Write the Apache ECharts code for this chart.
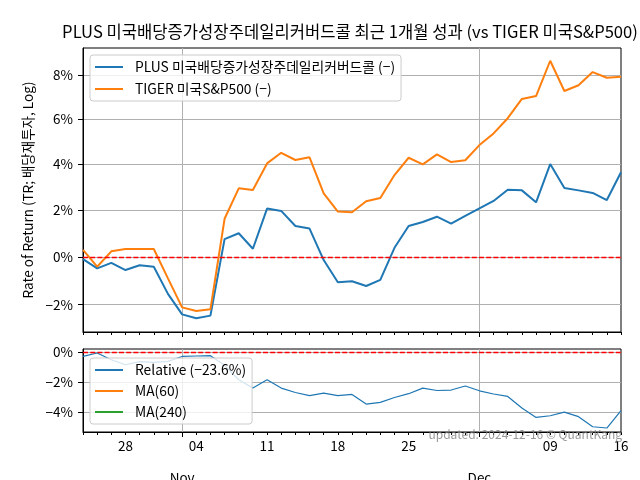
<!DOCTYPE html>
<html><head><meta charset="utf-8">
<script src="https://cdn.jsdelivr.net/npm/echarts@6/dist/echarts.min.js"></script>
<style>html,body{margin:0;padding:0;background:#fff}#c{width:640px;height:480px}</style>
</head><body><div id="c"></div>
<script>
const dates = [
  '2024-10-23','2024-10-24','2024-10-25','2024-10-28','2024-10-29','2024-10-30','2024-10-31',
  '2024-11-01','2024-11-04','2024-11-05','2024-11-06','2024-11-07','2024-11-08',
  '2024-11-11','2024-11-12','2024-11-13','2024-11-14','2024-11-15',
  '2024-11-18','2024-11-19','2024-11-20','2024-11-21','2024-11-22',
  '2024-11-25','2024-11-26','2024-11-27','2024-11-28','2024-11-29',
  '2024-12-02','2024-12-03','2024-12-04','2024-12-05','2024-12-06',
  '2024-12-09','2024-12-10','2024-12-11','2024-12-12','2024-12-13','2024-12-16'
];
// cumulative total return, %
const plusReturn = [-0.09,-0.48,-0.25,-0.55,-0.35,-0.41,-1.55,-2.40,-2.56,-2.45,0.76,1.01,0.35,2.07,1.97,1.32,1.21,-0.13,-1.06,-1.02,-1.22,-0.96,0.39,1.32,1.49,1.72,1.42,1.76,2.08,2.40,2.89,2.86,2.34,4.01,2.96,2.86,2.75,2.44,3.65];
const tigerReturn = [0.30,-0.41,0.24,0.34,0.34,0.34,-0.90,-2.11,-2.26,-2.19,1.63,2.95,2.88,4.04,4.51,4.19,4.31,2.73,1.94,1.91,2.39,2.53,3.53,4.29,4.00,4.44,4.10,4.18,4.85,5.37,6.05,6.92,7.05,8.66,7.28,7.54,8.14,7.88,7.93];
const relative = [-0.30,-0.07,-0.52,-0.86,-0.65,-0.70,-0.63,-0.30,-0.27,-0.25,-0.90,-1.86,-2.41,-1.86,-2.41,-2.70,-2.91,-2.74,-2.91,-2.83,-3.46,-3.35,-3.03,-2.78,-2.41,-2.57,-2.54,-2.27,-2.59,-2.80,-2.96,-3.72,-4.33,-4.22,-3.98,-4.28,-4.93,-5.01,-3.89];
const ma60 = [];
const ma240 = [];

const weekLabelDates = ['2024-10-28','2024-11-04','2024-11-11','2024-11-18','2024-11-25','2024-12-09','2024-12-16'];
const weekLabels = ['28','04','11','18','25','09','16'];
const monthLabelDates = ['2024-11-01','2024-12-02'];
const monthLabels = ['Nov','Dec'];
const topTicks = [-2,0,2,4,6,8];
const bottomTicks = [-4,-2,0];

const titleText = 'PLUS 미국배당증가성장주데일리커버드콜 최근 1개월 성과 (vs TIGER 미국S&P500)';
const nPlus = 'PLUS 미국배당증가성장주데일리커버드콜 (−)';
const nTiger = 'TIGER 미국S&P500 (−)';
const nRel = 'Relative (−23.6%)';
const nMa60 = 'MA(60)';
const nMa240 = 'MA(240)';

const FF = "'Noto Sans CJK KR', 'Noto Sans', sans-serif";
const toLog = r => 100 * Math.log(1 + r / 100);
const fmtPct = v => { const r = Math.round((Math.exp(v / 100) - 1) * 100); return (r < 0 ? '−' : '') + Math.abs(r) + '%'; };
const isMonth = (i) => monthLabelDates.indexOf(dates[i]) >= 0;

const labelMap = {};
weekLabelDates.forEach((d, k) => labelMap[d] = weekLabels[k]);
monthLabelDates.forEach((d, k) => labelMap[d] = '\n\n' + monthLabels[k]);

function xAxisBase(grid, showLabel) {
  return {
    type: 'category', gridIndex: grid, data: dates, boundaryGap: false, position: 'bottom',
    axisLine: { show: true, onZero: false, lineStyle: { color: '#000', width: 1 } },
    axisTick: { show: true, interval: 0, length: 3, lineStyle: { color: '#000' } },
    axisLabel: showLabel ? {
      show: true, interval: (i, v) => labelMap[v] !== undefined,
      formatter: v => labelMap[v] || '', fontSize: 13.5, lineHeight: 16, color: '#000', fontFamily: FF, margin: 6
    } : { show: false },
    splitLine: { show: true, interval: (i) => isMonth(i), lineStyle: { color: '#b0b0b0', width: 1 } }
  };
}
function xAxisMajor(grid) {
  return {
    type: 'category', gridIndex: grid, data: dates, boundaryGap: false, position: 'bottom',
    axisLine: { show: false, onZero: false }, axisLabel: { show: false }, splitLine: { show: false },
    axisTick: { show: true, interval: (i) => isMonth(i), length: 5, lineStyle: { color: '#000' } }
  };
}
const zeroLine = {
  silent: true, symbol: 'none', label: { show: false }, z: 10, data: [{ yAxis: 0 }],
  lineStyle: { color: '#ff0000', type: [5, 2.2], width: 1.3, opacity: 1 }, emphasis: { disabled: true }
};

const option = {
  animation: false,
  backgroundColor: '#fff',
  color: ['#1f77b4', '#ff7f0e', '#1f77b4', '#ff7f0e', '#2ca02c'],
  title: {
    text: titleText, left: 350, textAlign: 'center', top: 23, padding: 0,
    textStyle: { fontSize: 16.6, fontWeight: 'normal', color: '#000', fontFamily: FF }
  },
  grid: [
    { left: 83, top: 48, width: 538, height: 284, show: true, borderColor: '#000', borderWidth: 1, containLabel: false, outerBoundsMode: 'none' },
    { left: 83, top: 349, width: 538, height: 83, show: true, borderColor: '#000', borderWidth: 1, containLabel: false, outerBoundsMode: 'none' }
  ],
  xAxis: [xAxisBase(0, false), xAxisBase(1, true), xAxisMajor(0), xAxisMajor(1)],
  yAxis: [
    {
      type: 'value', gridIndex: 0, min: -3.174, max: 8.845,
      name: 'Rate of Return (TR; 배당재투자, Log)', nameLocation: 'middle', nameGap: 48,
      nameTextStyle: { fontSize: 13.5, color: '#000', fontFamily: FF },
      axisLine: { show: true, lineStyle: { color: '#000' } },
      axisTick: { show: true, length: 5, customValues: topTicks.map(toLog), lineStyle: { color: '#000' } },
      axisLabel: { show: true, customValues: topTicks.map(toLog), formatter: fmtPct, fontSize: 13.5, color: '#000', fontFamily: FF, margin: 10 },
      splitLine: { show: true, lineStyle: { color: '#b0b0b0', width: 1 } }
    },
    {
      type: 'value', gridIndex: 1, min: -5.41, max: 0.203,
      axisLine: { show: true, lineStyle: { color: '#000' } },
      axisTick: { show: true, length: 5, customValues: bottomTicks.map(toLog), lineStyle: { color: '#000' } },
      axisLabel: { show: true, customValues: bottomTicks.map(toLog), formatter: fmtPct, fontSize: 13.5, color: '#000', fontFamily: FF, margin: 10 },
      splitLine: { show: true, lineStyle: { color: '#b0b0b0', width: 1 } }
    }
  ],
  legend: [
    {
      data: [nPlus, nTiger], orient: 'vertical', left: 90, top: 55, selectedMode: false,
      icon: 'rect', itemWidth: 28, itemHeight: 2, itemGap: 6, padding: [4, 6, 4, 5],
      backgroundColor: 'rgba(255,255,255,0.8)', borderColor: '#cccccc', borderWidth: 1, borderRadius: 3,
      textStyle: { fontSize: 13.8, lineHeight: 16, color: '#000', fontFamily: FF, padding: [0, 0, 0, 7] }
    },
    {
      data: [nRel, nMa60, nMa240], orient: 'vertical', left: 90, top: 358, selectedMode: false,
      icon: 'rect', itemWidth: 28, itemHeight: 2, itemGap: 5, padding: [4, 6, 4, 5],
      backgroundColor: 'rgba(255,255,255,0.8)', borderColor: '#cccccc', borderWidth: 1, borderRadius: 3,
      textStyle: { fontSize: 13.8, lineHeight: 16, color: '#000', fontFamily: FF, padding: [0, 0, 0, 7] }
    }
  ],
  series: [
    {
      name: nPlus, type: 'line', xAxisIndex: 0, yAxisIndex: 0, data: plusReturn.map(toLog),
      showSymbol: false, symbol: 'none', itemStyle: { color: '#1f77b4' }, lineStyle: { color: '#1f77b4', width: 2 }, z: 3,
      markLine: zeroLine
    },
    {
      name: nTiger, type: 'line', xAxisIndex: 0, yAxisIndex: 0, data: tigerReturn.map(toLog),
      showSymbol: false, symbol: 'none', itemStyle: { color: '#ff7f0e' }, lineStyle: { color: '#ff7f0e', width: 2 }, z: 3
    },
    {
      name: nRel, type: 'line', xAxisIndex: 1, yAxisIndex: 1, data: relative.map(toLog),
      showSymbol: false, symbol: 'none', itemStyle: { color: '#1f77b4' }, lineStyle: { color: '#1f77b4', width: 1.2 }, z: 3,
      markLine: zeroLine
    },
    {
      name: nMa60, type: 'line', xAxisIndex: 1, yAxisIndex: 1, data: ma60,
      showSymbol: false, itemStyle: { color: '#ff7f0e' }, lineStyle: { color: '#ff7f0e', width: 2 }
    },
    {
      name: nMa240, type: 'line', xAxisIndex: 1, yAxisIndex: 1, data: ma240,
      showSymbol: false, itemStyle: { color: '#2ca02c' }, lineStyle: { color: '#2ca02c', width: 2 }
    }
  ],
  graphic: [
    {
      type: 'text', right: 18, top: 428, z: 100, silent: true,
      style: { text: 'updated: 2024-12-16 © QuantKang', fill: 'rgba(128,128,128,0.8)', font: "12px 'Noto Sans CJK KR', sans-serif" }
    }
  ]
};
const chart = echarts.init(document.getElementById('c'), null, { renderer: 'canvas' });
chart.setOption(option);
</script>
</body></html>
